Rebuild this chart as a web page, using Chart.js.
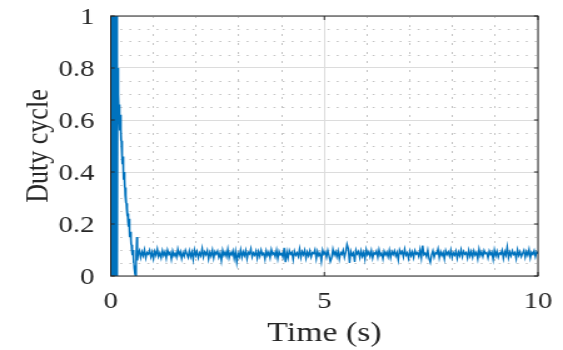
<!DOCTYPE html>
<html>
<head>
<meta charset="utf-8">
<script src="https://cdn.jsdelivr.net/npm/chart.js@4/dist/chart.umd.min.js"></script>
<style>
  html, body { margin: 0; padding: 0; background: #ffffff; }
  canvas { display: block; }
</style>
</head>
<body>
<canvas id="c" width="450" height="350" style="width:563px;height:350px;"></canvas>
<script>
// ---------------- data ----------------
const xTickLabels = ['0', '5', '10'];
const yTickLabels = ['0', '0.2', '0.4', '0.6', '0.8', '1'];

// start-up switching band and decaying transient
const transientTime = [
  0.000, 0.008, 0.016, 0.024, 0.032, 0.040, 0.048, 0.056, 0.064, 0.072,
  0.080, 0.088, 0.096, 0.104, 0.112, 0.120, 0.128, 0.136, 0.144, 0.152,
  0.160,
  0.164, 0.170, 0.176, 0.182, 0.188, 0.194, 0.200, 0.206, 0.212, 0.218,
  0.224, 0.230, 0.236, 0.242, 0.248, 0.254, 0.260, 0.266, 0.272, 0.278,
  0.284, 0.290, 0.298, 0.306, 0.314, 0.322, 0.330, 0.338, 0.346, 0.354,
  0.362, 0.370, 0.378, 0.386, 0.394, 0.402, 0.410, 0.418, 0.426, 0.434,
  0.442, 0.450, 0.460, 0.470, 0.480, 0.490, 0.500, 0.510, 0.520, 0.530,
  0.540, 0.550, 0.560, 0.570, 0.580, 0.595, 0.610, 0.625
];
const transientDuty = [
  0, 1.05, 0, 1.05, 0, 1.05, 0, 1.05, 0, 1.05,
  0, 1.05, 0, 1.05, 0, 1.05, 0, 1.05, 0, 1.05,
  0,
  0.80, 0.70, 0.74, 0.66, 0.70, 0.62, 0.66, 0.58, 0.63, 0.56,
  0.62, 0.55, 0.60, 0.52, 0.56, 0.49, 0.52, 0.46, 0.50, 0.43,
  0.46, 0.40, 0.43, 0.37, 0.40, 0.34, 0.37, 0.31, 0.34, 0.28,
  0.31, 0.26, 0.28, 0.23, 0.26, 0.21, 0.24, 0.19, 0.22, 0.17,
  0.20, 0.15, 0.17, 0.12, 0.14, 0.10, 0.12, 0.08, 0.10, 0.05,
  0.07, 0.03, 0.04, 0.01, 0.00, 0.08, 0.15, 0.06
];

// steady-state duty cycle, sampled every 0.03 s from 0.64 s
const steadyStart = 0.64;
const steadyStep = 0.03;
const steadyDuty = [
  0.082,0.097,0.071,0.094,0.078,0.101,0.069,0.090,0.084,0.099,0.073,0.092,0.066,0.095,0.080,0.104,0.075,0.089,0.070,0.098,
  0.079,0.093,0.068,0.100,0.083,0.091,0.064,0.096,0.077,0.088,0.072,0.103,0.081,0.094,0.067,0.090,0.076,0.099,0.085,0.071,
  0.097,0.074,0.092,0.063,0.101,0.080,0.095,0.070,0.089,0.078,0.106,0.073,0.093,0.082,0.098,0.065,0.091,0.077,0.100,0.069,
  0.094,0.084,0.096,0.072,0.088,0.058,0.099,0.079,0.092,0.075,0.103,0.070,0.090,0.081,0.097,0.067,0.095,0.052,0.087,0.074,
  0.101,0.071,0.093,0.078,0.098,0.066,0.091,0.085,0.105,0.073,0.089,0.080,0.096,0.068,0.094,0.076,0.100,0.082,0.088,0.064,
  0.097,0.079,0.092,0.070,0.102,0.083,0.090,0.074,0.099,0.067,0.095,0.081,0.087,0.072,0.108,0.053,0.093,0.069,0.098,0.084,
  0.091,0.063,0.096,0.080,0.089,0.075,0.104,0.071,0.094,0.082,0.099,0.068,0.092,0.078,0.097,0.073,0.090,0.086,0.101,0.066,
  0.095,0.079,0.088,0.056,0.100,0.084,0.093,0.072,0.098,0.077,0.055,0.069,0.103,0.081,0.094,0.074,0.096,0.065,0.090,0.083,
  0.099,0.071,0.092,0.122,0.105,0.050,0.095,0.080,0.089,0.054,0.100,0.085,0.094,0.070,0.097,0.076,0.091,0.064,0.102,0.082,
  0.093,0.075,0.098,0.069,0.090,0.084,0.096,0.072,0.101,0.079,0.088,0.066,0.095,0.081,0.092,0.074,0.099,0.070,0.094,0.083,
  0.097,0.077,0.091,0.062,0.100,0.086,0.094,0.073,0.103,0.080,0.089,0.068,0.096,0.078,0.093,0.071,0.098,0.084,0.090,0.075,
  0.102,0.069,0.117,0.082,0.088,0.074,0.099,0.067,0.052,0.081,0.097,0.072,0.090,0.085,0.104,0.070,0.094,0.079,0.091,0.065,
  0.098,0.083,0.093,0.076,0.100,0.071,0.089,0.080,0.096,0.068,0.092,0.078,0.101,0.074,0.095,0.084,0.090,0.069,0.099,0.077,
  0.094,0.072,0.097,0.081,0.091,0.066,0.103,0.079,0.093,0.075,0.098,0.086,0.090,0.070,0.096,0.082,0.092,0.064,0.100,0.078,
  0.095,0.073,0.089,0.084,0.099,0.068,0.094,0.080,0.112,0.071,0.092,0.077,0.097,0.083,0.090,0.066,0.101,0.079,0.093,0.074,
  0.087,0.099,0.072,0.094,0.080,0.102,0.069,0.091,0.083,0.097,0.074,0.093,0.086
];

// ---------------- build points ----------------
const points = [];
transientTime.forEach((t, i) => points.push({ x: t, y: transientDuty[i] }));
steadyDuty.forEach((v, i) => points.push({ x: steadyStart + i * steadyStep, y: v }));

const isMajorX = v => xTickLabels.includes(String(Math.round(v * 1000) / 1000));
const fmtY = v => String(Math.round(v * 100) / 100);
const isMajorY = v => yTickLabels.includes(fmtY(v)) && Math.abs(Math.round(v * 20) - v * 20) < 1e-6;

const SERIF = '"Liberation Serif", "Times New Roman", serif';
const TEXT = '#262626';

const framePlugin = {
  id: 'frame',
  afterDraw(chart) {
    const { ctx, chartArea: a, scales: { x, y } } = chart;
    ctx.save();
    ctx.strokeStyle = TEXT;
    ctx.lineWidth = 1;
    ctx.strokeRect(a.left, a.top, a.right - a.left, a.bottom - a.top);
    ctx.beginPath();
    x.ticks.forEach(t => {
      if (!isMajorX(t.value)) return;
      const px = x.getPixelForValue(t.value);
      ctx.moveTo(px, a.bottom); ctx.lineTo(px, a.bottom - 4);
      ctx.moveTo(px, a.top); ctx.lineTo(px, a.top + 4);
    });
    y.ticks.forEach(t => {
      if (!isMajorY(t.value)) return;
      const py = y.getPixelForValue(t.value);
      ctx.moveTo(a.left, py); ctx.lineTo(a.left + 3.2, py);
      ctx.moveTo(a.right, py); ctx.lineTo(a.right - 3.2, py);
    });
    ctx.stroke();
    ctx.restore();
  }
};

new Chart(document.getElementById('c'), {
  type: 'line',
  data: {
    datasets: [{
      data: points,
      borderColor: '#0072BD',
      borderWidth: 1.4,
      pointRadius: 0,
      tension: 0,
      fill: false
    }]
  },
  options: {
    responsive: false,
    devicePixelRatio: 1,
    animation: false,
    events: [],
    layout: { padding: { left: 0, right: 20, top: 16, bottom: 0 } },
    plugins: { legend: { display: false }, tooltip: { enabled: false } },
    scales: {
      x: {
        type: 'linear',
        min: 0, max: 10,
        afterFit: s => { s.height = 74; s.paddingLeft = 0; s.paddingRight = 0; },
        ticks: {
          stepSize: 1,
          autoSkip: false,
          maxRotation: 0, minRotation: 0,
          padding: 12,
          color: TEXT,
          font: { family: SERIF, size: 23 },
          callback: v => (isMajorX(v) ? String(v) : '')
        },
        grid: {
          drawTicks: false,
          lineWidth: 1,
          color: c => (c.tick && isMajorX(c.tick.value) ? '#dcdcdc' : '#c4c4c4')
        },
        border: {
          display: false,
          dash: c => (c.tick && !isMajorX(c.tick.value) ? [2, 7] : [])
        },
        title: {
          display: true,
          text: 'Time (s)',
          color: TEXT,
          font: { family: SERIF, size: 27 },
          padding: { top: 0, bottom: 0 }
        }
      },
      y: {
        type: 'linear',
        min: 0, max: 1,
        afterFit: s => { s.width = 88.5; s.paddingTop = 0; s.paddingBottom = 0; },
        ticks: {
          stepSize: 0.05,
          autoSkip: false,
          padding: 13,
          labelOffset: 2,
          color: TEXT,
          font: { family: SERIF, size: 23 },
          callback: v => (isMajorY(v) ? fmtY(v) : '')
        },
        grid: {
          drawTicks: false,
          lineWidth: 1,
          color: c => (c.tick && isMajorY(c.tick.value) ? '#dcdcdc' : '#c4c4c4')
        },
        border: {
          display: false,
          dash: c => (c.tick && !isMajorY(c.tick.value) ? [1.6, 5.6] : [])
        },
        title: {
          display: true,
          text: 'Duty cycle',
          color: TEXT,
          font: { family: SERIF, size: 26 },
          padding: { top: 15.5, bottom: 0 }
        }
      }
    }
  },
  plugins: [framePlugin]
});
</script>
</body>
</html>
